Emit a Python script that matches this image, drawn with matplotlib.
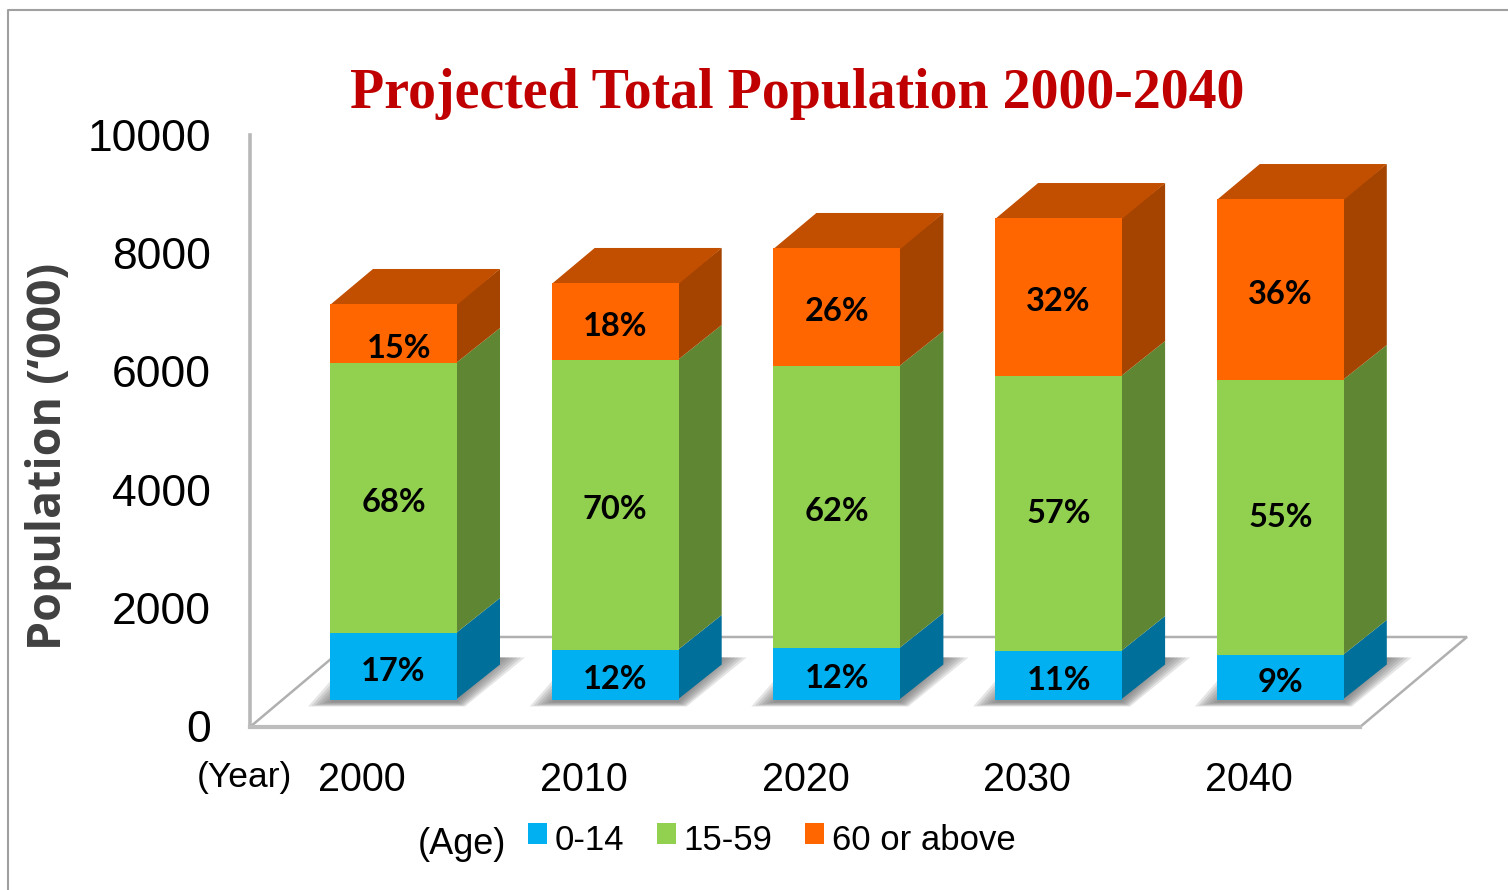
import numpy as np
import matplotlib
matplotlib.use('Agg')
import matplotlib.pyplot as plt
from matplotlib.patches import Polygon
from matplotlib.lines import Line2D

years = ['2000', '2010', '2020', '2030', '2040']
ages = ['0-14', '15-59', '60 or above']
young = [1123, 836, 870, 819, 752]
working = [4561, 4899, 4764, 4645, 4645]
old = [997, 1301, 1993, 2669, 3057]
young_pct = ['17%', '12%', '12%', '11%', '9%']
working_pct = ['68%', '70%', '62%', '57%', '55%']
old_pct = ['15%', '18%', '26%', '32%', '36%']
yticks = [0, 2000, 4000, 6000, 8000, 10000]

W, H = 1508, 890
PX_Y = 59.2 / 1000  # pixels per unit of population
PX_X = 221.7        # pixels per category
BAR_W = 127 / PX_X
DX, DY = 43 / PX_X, 35 / PX_Y   # depth of the boxes
L, R, T, B = 250, 1467, 135, 726

fig = plt.figure(figsize=(W / 100, H / 100), dpi=100, facecolor='white')
pos = [L / W, 1 - B / H, (R - L) / W, (B - T) / H]

# axis with the labels, it sits on the back wall of the 3d box
ax0 = fig.add_axes(pos)
ax0.set_ylim(0, 10000)
ax0.set_xlim((L - 362) / PX_X, (R - 362) / PX_X)
ax0.set_yticks(yticks)
ax0.set_xticks(range(len(years)), years)
ax0.tick_params(axis='y', length=0, pad=28, labelsize=32, labelfontfamily='Liberation Sans')
ax0.tick_params(axis='x', length=0, pad=25, labelsize=28.5, labelfontfamily='Liberation Sans')
for s in ['top', 'right', 'bottom']:
    ax0.spines[s].set_visible(False)
ax0.spines['left'].set_color('#b8b8b8')
ax0.spines['left'].set_linewidth(2.6)
ax0.set_ylabel('Population (\u2018000)', fontsize=33.5, fontweight='bold', family='Open Sans',
               color='#404040')
ax0.yaxis.set_label_coords((72 - L) / (R - L), (B - 456) / (B - T))

# bars are drawn in front of the wall, base is 27px above the axis floor
ax = fig.add_axes(pos, sharex=None)
ax.patch.set_alpha(0)
ax.axis('off')
ax.set_xlim((L - 393.5) / PX_X, (R - 393.5) / PX_X)
ax.set_ylim(-(B - 699.5) / PX_Y, (699.5 - T) / PX_Y)
y_floor = -(B - 699.5) / PX_Y - 1 / PX_Y
x_left = ax.get_xlim()[0]
floor_w = (1360 - L) / PX_X
fx, fy = 107 / PX_X, 90 / PX_Y
ax.add_line(Line2D([x_left, x_left + fx, x_left + floor_w + fx, x_left + floor_w, x_left],
                   [y_floor, y_floor + fy, y_floor + fy, y_floor, y_floor],
                   color='#b0b0b0', lw=1.8, zorder=1, solid_joinstyle='miter', clip_on=False))
ax.plot([x_left, x_left + floor_w], [y_floor, y_floor], color='#bdbdbd', lw=3, zorder=1,
        clip_on=False)

x = np.arange(len(years))
young = np.array(young)
working = np.array(working)
old = np.array(old)
bottoms = [np.zeros(5), young, young + working]
values = [young, working, old]
front = ['#00B0F0', '#92D050', '#FF6600']
side = ['#006F9A', '#5F8632', '#A54400']
top_col = '#C24E00'
pcts = [young_pct, working_pct, old_pct]
nudge = {'15%': (4, -11), '57%': (0, 0), '55%': (0, 0)}

# soft shadow on the floor
for xi in x:
    for k, g in enumerate(np.linspace(1, 0, 7)):
        pad = 22 * g / PX_X
        low = -7 * (0.4 + g * 0.6) / PX_Y
        reach = (23 * g + 2) / PX_X
        ax.add_patch(Polygon([(xi - BAR_W / 2 - pad, low), (xi + BAR_W / 2 + 8 * g / PX_X, low),
                              (xi + BAR_W / 2 + DX + reach, DY + 7 / PX_Y),
                              (xi - BAR_W / 2 + DX - pad, DY + 7 / PX_Y)],
                             fc='#707070', ec='none', alpha=0.18, zorder=2))

for b, v, fc, sc, age in zip(bottoms, values, front, side, ages):
    ax.bar(x, v, BAR_W, bottom=b, color=fc, label=age, zorder=4, linewidth=0)
    for xi, b0, h in zip(x, b, v):
        xr = xi + BAR_W / 2
        xs = xr - 1 / PX_X   # tuck under the front so no seam shows
        ax.add_patch(Polygon([(xs, b0), (xr + DX, b0 + DY), (xr + DX, b0 + h + DY), (xs, b0 + h)],
                             fc=sc, ec='none', zorder=3))

totals = young + working + old
for xi, t in zip(x, totals):
    xl, xr = xi - BAR_W / 2, xi + BAR_W / 2
    ax.add_patch(Polygon([(xl, t - 1 / PX_Y), (xr, t - 1 / PX_Y), (xr + DX, t + DY), (xl + DX, t + DY)],
                         fc=top_col, ec='none', zorder=3))

for b, v, labs in zip(bottoms, values, pcts):
    for xi, b0, h, lab in zip(x, b, v, labs):
        off = nudge.get(lab, (0, -3.5))
        ax.annotate(lab, (xi, b0 + h / 2), xytext=off, textcoords='offset points',
                    ha='center', va='center', fontsize=23.5, fontweight='bold',
                    family='Lato', color='black', zorder=6)

fig.text(797 / W, 1 - 94 / H, 'Projected Total Population 2000-2040', color='#C00000',
         fontsize=40.2, fontweight='bold', family='Liberation Serif', ha='center', va='center')
fig.text(197 / W, 1 - 778 / H, '(Year)', fontsize=25.5, family='Liberation Sans', va='center')
fig.text(418 / W, 1 - 844 / H, '(Age)', fontsize=26, family='Liberation Sans', va='center')

leg = fig.legend(*ax.get_legend_handles_labels(), loc='center left',
                 bbox_to_anchor=(528 / W, 1 - 836 / H), ncol=3, frameon=False,
                 prop={'family': 'Liberation Sans', 'size': 25},
                 borderpad=0, borderaxespad=0, handlelength=0.54, handleheight=0.54,
                 handletextpad=0.22, columnspacing=0.95)
for t in leg.get_texts():
    t.set_y(-5)

# page frame, top and left only reach the image edge
fig.add_artist(Line2D([8 / W, 8 / W, 1], [0, 1 - 10 / H, 1 - 10 / H], color='#a0a0a0', lw=1.5,
                      transform=fig.transFigure))

fig.savefig('out.png', dpi=100, facecolor='white')
